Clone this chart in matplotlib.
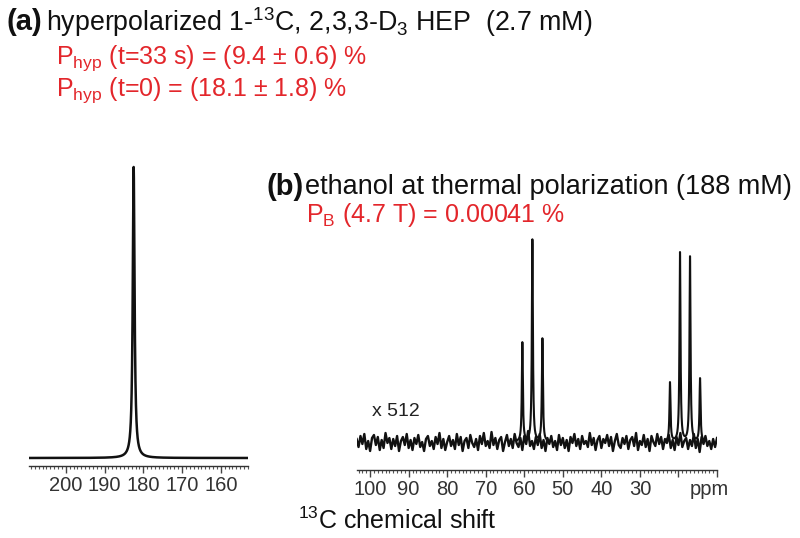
import numpy as np
import matplotlib
matplotlib.use("Agg")
import matplotlib.pyplot as plt
from matplotlib.ticker import MultipleLocator, FixedLocator, FixedFormatter

plt.rcParams['font.family'] = ['Liberation Sans', 'DejaVu Sans']
plt.rcParams['mathtext.fontset'] = 'custom'
plt.rcParams['mathtext.rm'] = 'Liberation Sans'
plt.rcParams['mathtext.it'] = 'Liberation Sans:italic'
plt.rcParams['mathtext.bf'] = 'Liberation Sans:bold'

# ---------------- data ----------------
# (a) hyperpolarized HEP: single line
hep_ppm = [182.5]
hep_height = [291.0]
hep_width = [0.28]
hep_ticks = [200, 190, 180, 170, 160]
hep_ticklabels = ['200', '190', '180', '170', '160']

# (b) ethanol thermal: CH2 triplet + CH3 quartet
eth_ppm = [60.5, 57.9, 55.3, 22.2, 19.6, 17.0, 14.4]
eth_height = [99.0, 202.0, 103.0, 59.0, 189.0, 185.0, 63.0]
eth_width = [0.16, 0.16, 0.16, 0.16, 0.16, 0.16, 0.16]
eth_ticks = [100, 90, 80, 70, 60, 50, 40, 30, 20, 10]
eth_ticklabels = ['100', '90', '80', '70', '60', '50', '40', '30', '', '']

# baseline noise of (b), read as wiggles every 0.5 ppm from 103.5 to 10 ppm
eth_noise = [
    3, -5, 6, -2, 8, -7, 1, -9, 4, 7, -3, 5, -8, 2, -6, 9, -1, 4, -7, 3,
    -4, 6, -9, 1, 5, -3, 8, -6, 2, -8, 4, -2, 7, -5, 0, -9, 3, 6, -4, 1,
    -7, 5, -2, 9, -6, 3, -8, 0, 6, -4, 2, -7, 8, -3, 5, -9, 1, 4, -6, 7,
    -1, -5, 3, -8, 6, -2, 9, -4, 1, -6, 10, -3, 4, -7, 2, 5, -9, 0, 7, -4,
    3, -6, 8, -1, -5, 4, -8, 6, -2, 11, -4, 1, -7, 5, -3, 8, -6, 2, -9, 4,
    -2, 6, -5, 1, -8, 7, -3, 4, -6, 2, -9, 5, -1, 8, -4, 3, -7, 6, -2, 1,
    -5, 9, -3, 4, -8, 2, 6, -6, 3, -1, 7, -4, 5, -9, 1, 8, -3, -6, 4, -2,
    6, -7, 2, 5, -4, 9, -8, 1, -3, 7, -5, 3, -9, 6, 0, -4, 8, -2, 5, -7,
    3, -1, 7, -6, 2, -8, 5, -3, 9, -5, 1, 4, -7, 2, -4, 8, -6, 3, -10, 5,
    -2, 6, -4, 1, -7, 3, -5, 4]

W, H = 800, 538
fig = plt.figure(figsize=(W / 100, H / 100), dpi=100)
fig.patch.set_facecolor('white')


def px_axes(x0, x1, ytop, ybot):
    return fig.add_axes([x0 / W, 1 - ybot / H, (x1 - x0) / W, (ybot - ytop) / H])


def lorentz(x, centers, heights, widths):
    y = np.zeros_like(x)
    for c, h, g in zip(centers, heights, widths):
        y += h * g ** 2 / ((x - c) ** 2 + g ** 2)
    return y


TICK_FS = 14.5


def style_axis(ax):
    for s in ['left', 'right', 'top']:
        ax.spines[s].set_visible(False)
    ax.spines['bottom'].set_color('#333333')
    ax.spines['bottom'].set_linewidth(1.0)
    ax.set_yticks([])
    ax.xaxis.set_minor_locator(MultipleLocator(1))
    ax.tick_params(axis='x', which='major', direction='out', length=5, width=1.0,
                   color='#444444', labelsize=TICK_FS, labelcolor='#333333', pad=2)
    ax.tick_params(axis='x', which='minor', direction='out', length=2.5, width=0.8,
                   color='#555555')
    ax.patch.set_alpha(0)


# ---- panel (a) ----
axa = px_axes(29, 248, 150, 466)
xa = np.linspace(209.5, 153.0, 4000)
axa.plot(xa, lorentz(xa, hep_ppm, hep_height, hep_width), color='#111111', lw=1.8)
axa.set_xlim(209.5, 153.0)
axa.set_ylim(-8, 308)
axa.xaxis.set_major_locator(FixedLocator(hep_ticks))
axa.xaxis.set_major_formatter(FixedFormatter(hep_ticklabels))
style_axis(axa)

# ---- panel (b) ----
axb = px_axes(357, 717, 230, 470)
xn = 103.5 - 0.5 * np.arange(len(eth_noise))
axb.plot(xn, np.array(eth_noise, dtype=float), color='#111111', lw=1.7)
xb = np.linspace(103.4, 10.0, 8000)
peaks = lorentz(xb, eth_ppm, eth_height, eth_width)
mask = peaks > 1.5
yb = np.where(mask, peaks, np.nan)
axb.plot(xb, yb, color='#111111', lw=1.5)
axb.set_xlim(103.4, 10.0)
axb.set_ylim(-28, 212)
axb.xaxis.set_major_locator(FixedLocator(eth_ticks))
axb.xaxis.set_major_formatter(FixedFormatter(eth_ticklabels))
style_axis(axb)
axb.annotate('ppm', xy=(12.0, 0), xycoords=('data', 'axes fraction'),
             xytext=(0, -7), textcoords='offset points', ha='center', va='top',
             fontsize=TICK_FS, color='#333333')
axb.text(103.4 - 4.0, 30, 'x 512', ha='left', va='center', fontsize=14, color='#222222')


# ---- texts ----
def ftext(x, y, s, **kw):
    fig.text(x / W, 1 - y / H, s, **kw)


red = '#e3262b'
ftext(7, 22, '(a)', fontsize=21, fontweight='bold', va='center', ha='left', color='#111111')
ftext(46, 22, r'hyperpolarized 1-$\mathregular{^{13}}$C, 2,3,3-D$\mathregular{_3}$ HEP  (2.7 mM)',
      fontsize=19.3, va='center', ha='left', color='#111111')
ftext(56, 58, r'P$\mathregular{_{hyp}}$ (t=33 s) = (9.4 ± 0.6) %',
      fontsize=18, va='center', ha='left', color=red)
ftext(56, 90, r'P$\mathregular{_{hyp}}$ (t=0) = (18.1 ± 1.8) %',
      fontsize=18, va='center', ha='left', color=red)
ftext(267, 187, '(b)', fontsize=21, fontweight='bold', va='center', ha='left', color='#111111')
ftext(305, 187, 'ethanol at thermal polarization (188 mM)',
      fontsize=19.5, va='center', ha='left', color='#111111')
ftext(306, 215, r'P$\mathregular{_B}$ (4.7 T) = 0.00041 %',
      fontsize=18, va='center', ha='left', color=red)
ftext(298, 521, r'$\mathregular{^{13}}$C chemical shift',
      fontsize=18, va='center', ha='left', color='#111111')

fig.savefig('out.png', dpi=100)
